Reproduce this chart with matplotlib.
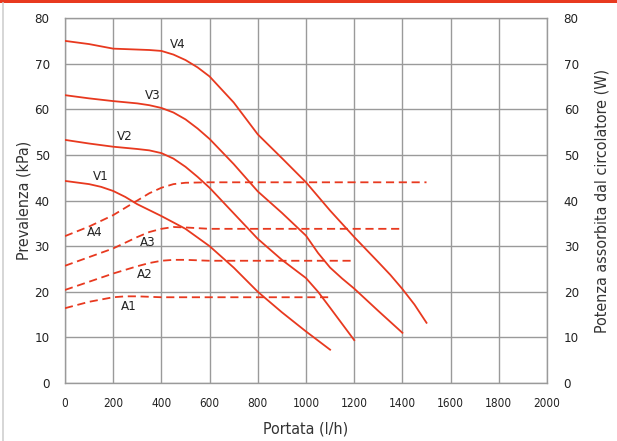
import matplotlib
matplotlib.use("Agg")
import matplotlib.pyplot as plt
from matplotlib.lines import Line2D
from matplotlib.patches import Rectangle

RED = '#e8391f'
GRID = '#9a9a9a'
TXT = dict(family='DejaVu Sans', stretch='condensed')

# pressure head curves (kPa) vs flow (l/h)
v1_x = [0, 100, 150, 200, 250, 300, 400, 500, 600, 700, 800, 900, 1000, 1100]
v1_y = [44.3, 43.6, 43.0, 42.1, 40.8, 39.2, 36.6, 33.8, 30.0, 25.3, 20.0, 15.5, 11.3, 7.3]
v2_x = [0, 100, 200, 300, 350, 400, 450, 500, 550, 600, 700, 800, 900, 1000, 1050, 1100,
        1200]
v2_y = [53.3, 52.5, 51.8, 51.3, 51.0, 50.4, 49.2, 47.4, 45.2, 42.8, 37.2, 31.6, 27.0, 23.0,
        20.0, 16.5, 9.4]
v3_x = [0, 100, 200, 300, 350, 400, 450, 500, 550, 600, 700, 800, 900, 1000, 1050, 1100,
        1150, 1200, 1300, 1400]
v3_y = [63.1, 62.4, 61.8, 61.3, 60.9, 60.3, 59.3, 57.8, 55.8, 53.5, 48.0, 42.0, 37.3, 32.3,
        28.5, 25.3, 22.9, 20.7, 15.8, 11.0]
v4_x = [0, 100, 200, 300, 350, 400, 450, 500, 550, 600, 700, 800, 900, 1000, 1100, 1200,
        1300, 1350, 1400, 1450, 1500]
v4_y = [75.0, 74.3, 73.3, 73.1, 73.0, 72.8, 72.0, 70.8, 69.2, 67.2, 61.5, 54.5, 49.3, 44.0,
        37.8, 32.0, 26.5, 23.7, 20.6, 17.2, 13.2]

# absorbed power curves (W)
a1_x = [0, 100, 200, 250, 300, 400, 1100]
a1_y = [16.4, 17.8, 18.8, 19.0, 19.0, 18.8, 18.8]
a2_x = [0, 100, 200, 300, 350, 400, 450, 500, 600, 1200]
a2_y = [20.4, 22.2, 24.0, 25.6, 26.3, 26.8, 27.0, 27.0, 26.8, 26.8]
a3_x = [0, 100, 200, 300, 350, 400, 450, 500, 600, 1400]
a3_y = [25.7, 27.6, 29.5, 32.0, 33.1, 33.8, 34.2, 34.1, 33.8, 33.8]
a4_x = [0, 100, 200, 300, 350, 400, 450, 500, 600, 1500]
a4_y = [32.2, 34.3, 36.8, 40.0, 41.6, 42.8, 43.6, 43.9, 44.0, 44.0]

# curve labels: (text, x, y)
labels = [('V4', 469, 74.1), ('V3', 365, 63.1), ('V2', 249, 54.0), ('V1', 149, 45.2),
          ('A4', 124, 33.0), ('A3', 344, 30.7), ('A2', 332, 23.7), ('A1', 266, 16.7)]

x_ticks = list(range(0, 2001, 200))
y_ticks = list(range(0, 81, 10))

fig = plt.figure(figsize=(6.17, 4.41), dpi=100)
ax = fig.add_axes([0.1053, 0.1315, 0.7813, 0.8275])

for xs, ys in [(v1_x, v1_y), (v2_x, v2_y), (v3_x, v3_y), (v4_x, v4_y)]:
    ax.plot(xs, ys, color=RED, lw=1.3, zorder=3)
for xs, ys in [(a1_x, a1_y), (a2_x, a2_y), (a3_x, a3_y), (a4_x, a4_y)]:
    ax.plot(xs, ys, color=RED, lw=1.3, dashes=(4.5, 2.6), zorder=3)

for txt, x, y in labels:
    ax.text(x, y, txt, fontsize=9.5, color='#222222', ha='center', va='center', **TXT)

ax.set_xlim(0, 2000)
ax.set_ylim(0, 80)
ax.set_xticks(x_ticks)
ax.set_yticks(y_ticks)
ax.grid(True, color=GRID, lw=1.0)
ax.set_axisbelow(True)
for s in ax.spines.values():
    s.set_color(GRID)
    s.set_linewidth(1.0)
ax.tick_params(axis='x', length=0, labelsize=8.5, colors='#222222', pad=10)
ax.tick_params(axis='y', length=0, labelsize=9.5, colors='#222222', pad=11)
for lab in ax.get_xticklabels() + ax.get_yticklabels():
    lab.set_fontstretch('condensed')

ax2 = ax.twinx()
ax2.set_ylim(0, 80)
ax2.set_yticks(y_ticks)
ax2.tick_params(length=0, labelsize=9.5, colors='#222222', pad=12)
for lab in ax2.get_yticklabels():
    lab.set_fontstretch('condensed')
for s in ax2.spines.values():
    s.set_visible(False)

ax.set_xlabel('Portata (l/h)', fontsize=11.5, color='#333333', labelpad=8, **TXT)
ax.set_ylabel('Prevalenza (kPa)', fontsize=11.5, color='#333333', labelpad=2, **TXT)
ax2.set_ylabel('Potenza assorbita dal circolatore (W)', fontsize=11.5, color='#333333',
               labelpad=11, **TXT)

# red band on top and thin grey rule on the left edge
fig.add_artist(Rectangle((0, 1 - 3 / 441), 1, 3 / 441, transform=fig.transFigure,
                         color=RED, lw=0))
fig.add_artist(Line2D([2.5 / 617, 2.5 / 617], [0, 1 - 3 / 441], transform=fig.transFigure,
                      color='#d0d0d0', lw=1.2))

fig.savefig('out.png', dpi=100)
